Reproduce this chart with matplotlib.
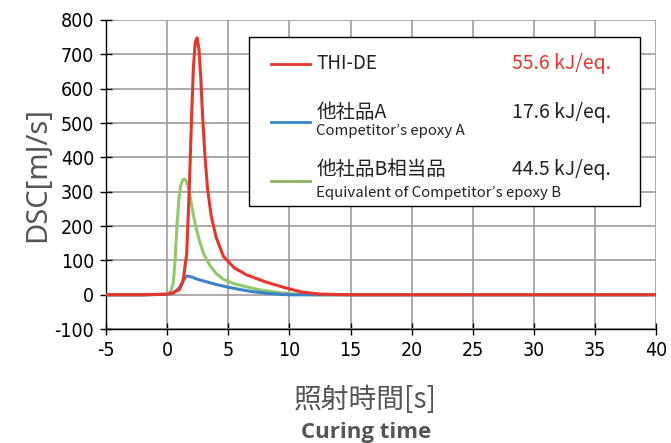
import matplotlib.pyplot as plt
from matplotlib.patches import Rectangle

plt.rcParams['font.family'] = ['DejaVu Sans', 'Noto Sans CJK JP']
plt.rcParams['font.stretch'] = 'condensed'
plt.rcParams['axes.unicode_minus'] = False

# --- data ---
t_red = [-5, -2, 0, 0.5, 1.0, 1.3, 1.6, 1.8, 2.0, 2.15, 2.3, 2.45, 2.6, 2.75, 2.9, 3.1, 3.3, 3.6, 4.0,
         4.6, 5.5, 6.5, 8, 9.5, 11, 12.5, 15, 20, 30, 40]
dsc_red = [0, 0, 2, 6, 15, 40, 120, 300, 520, 665, 735, 748, 715, 630, 520, 400, 310, 230, 168,
           112, 78, 58, 38, 22, 8, 2, 0, 0, 0, 0]

t_blue = [-5, -2, 0, 0.5, 1.0, 1.3, 1.6, 2.0, 2.5, 3.0, 4.0, 5.0, 6.0, 7.0, 8.0, 9.0, 10, 15, 20, 30, 40]
dsc_blue = [0, 0, 1, 5, 20, 40, 55, 52, 45, 40, 30, 22, 15, 9, 5, 2, 0, 0, 0, 0, 0]

t_green = [-5, -2, 0, 0.3, 0.5, 0.65, 0.8, 0.95, 1.1, 1.3, 1.5, 1.7, 1.9, 2.1, 2.4, 2.7, 3.0, 3.5,
           4.0, 4.6, 5.5, 6.5, 7.5, 9, 10.5, 12, 20, 30, 40]
dsc_green = [0, 0, 2, 10, 35, 100, 200, 275, 318, 336, 335, 318, 282, 240, 190, 150, 118, 85,
             62, 45, 32, 23, 15, 7, 2, 0, 0, 0, 0]

names = ['THI-DE', '他社品A', '他社品B相当品']
subnames = ['', 'Competitor\u2019s epoxy A', 'Equivalent of Competitor\u2019s epoxy B']
energies = ['55.6 kJ/eq.', '17.6 kJ/eq.', '44.5 kJ/eq.']

c_red = '#e8352b'
c_blue = '#3b82c8'
c_green = '#90c96c'
c_green_leg = '#8db15f'

fig = plt.figure(figsize=(6.71, 4.43), dpi=100)
ax = fig.add_axes([0.158, 0.257, 0.820, 0.698])

ax.plot(t_green, dsc_green, color=c_green, lw=2.2, zorder=3)
ax.plot(t_blue, dsc_blue, color=c_blue, lw=2.2, zorder=4)
ax.plot(t_red, dsc_red, color=c_red, lw=2.2, zorder=5)

ax.set_xlim(-5, 40)
ax.set_ylim(-100, 800)
ax.set_xticks(range(-5, 41, 5))
ax.set_yticks(range(-100, 801, 100))
ax.grid(True, color='#9c9c9c', lw=1.2)
ax.set_axisbelow(True)
for s in ['top', 'right']:
    ax.spines[s].set_visible(False)
for s in ['left', 'bottom']:
    ax.spines[s].set_color('black')
    ax.spines[s].set_linewidth(1.0)
ax.tick_params(direction='inout', length=9, width=1.0, labelsize=14, colors='black', pad=4)

ax.set_ylabel('DSC[mJ/s]', fontsize=21, color='#555555', labelpad=2,
              family=['Noto Sans', 'DejaVu Sans'], fontstretch='normal')
fig.text(0.545, 0.097, '照射時間[s]', ha='center', va='center', fontsize=20, color='#555555',
         family=['Noto Sans CJK JP', 'DejaVu Sans'])
fig.text(0.545, 0.024, 'Curing time', ha='center', va='center', fontsize=16, color='#555555',
         fontweight='bold', family=['Open Sans', 'DejaVu Sans'], fontstretch='normal')

# legend box
ax.add_patch(Rectangle((0.26, 0.398), 0.711, 0.547, transform=ax.transAxes,
                       facecolor='white', edgecolor='black', lw=1.0, zorder=6))
lf = ['Noto Sans CJK JP', 'DejaVu Sans']
line_y = [0.858, 0.67, 0.479]
name_y = [0.858, 0.702, 0.515]
sub_y = [None, 0.641, 0.44]
cols = [c_red, c_blue, c_green_leg]
for i in range(3):
    ax.plot([0.3, 0.371], [line_y[i], line_y[i]], transform=ax.transAxes, color=cols[i],
            lw=2.0, zorder=7, clip_on=False)
    ax.text(0.382, name_y[i], names[i], transform=ax.transAxes, fontsize=13.5 if i == 0 else 14,
            va='center', ha='left', color='#222222', family=lf, zorder=7)
    if subnames[i]:
        ax.text(0.382, sub_y[i], subnames[i], transform=ax.transAxes, fontsize=10.8, va='center',
                ha='left', color='#222222', family=lf, zorder=7)
    ax.text(0.918, name_y[i], energies[i], transform=ax.transAxes, fontsize=14, va='center',
            ha='right', color=c_red if i == 0 else '#222222', family=lf, zorder=7)

fig.savefig('out.png', dpi=100)
